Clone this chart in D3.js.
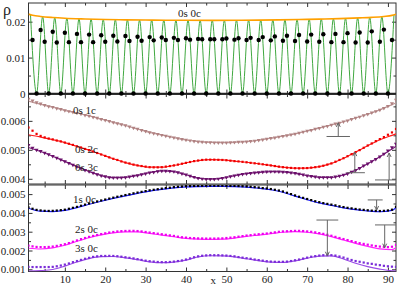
<!DOCTYPE html>
<html>
<head>
<meta charset="utf-8">
<script src="https://cdn.jsdelivr.net/npm/d3@7"></script>
<style>
  body { margin: 0; background: #fff; }
  svg { display: block; }
  text { font-family: "Liberation Serif", "DejaVu Serif", serif; fill: #222; }
</style>
</head>
<body>
<div id="chart"></div>
<script>
// all densities below are in units of 1e-3
const unit = 1e-3;

const sites = d3.range(1, 93);               // lattice sites 1..92 (markers)
const lineSites = d3.range(1, 92, 3).concat([92]);
const dotSites = d3.range(2, 92);            // 2..91
const greenSites = d3.range(1.5, 92, 1.5);   // 1.5..91.5

// top panel: 0s 0c
const dots0s0c = [14.9,0,17.7,14.4,0,17.2,14.2,0,16.9,14.3,0,16.6,14.3,0,16.4,14.3,0,16.2,14.4,0,
  16.1,14.5,0,16.0,14.6,0,15.8,14.7,0,15.7,14.8,0,15.6,14.9,0,15.5,14.9,0,15.4,15.0,
  0,15.2,15.1,0,15.1,15.1,0,15.1,15.3,0,15.0,15.4,0,14.9,15.5,0,14.9,15.7,0,14.8,
  15.9,0,14.7,16.1,0,14.6,16.3,0,14.5,16.4,0,14.4,16.5,0,14.3,16.6,0,14.3,16.8,0,
  14.2,17.0,0,14.2,17.3,0,14.4,17.8,0,14.9];
const green0s0c = [21.9,0,21.4,0,21.1,0,20.95,0,20.8,0,20.7,0,20.6,0,20.55,0,20.5,0,20.45,0,
  20.43,0,20.4,0,20.39,0,20.38,0,20.37,0,20.37,0,20.37,0,20.38,0,20.4,0,20.42,0,
  20.47,0,20.52,0,20.58,0,20.66,0,20.74,0,20.8,0,20.9,0,21.02,0,21.17,0,21.4,0,21.9];
const orangeSites = [1,2,4,7,10,15,20,25,30,35,40,46.5,53,58,63,68,73,78,83,86,89,91,92];
const orange0s0c = [22.1,21.8,21.45,21.15,20.95,20.75,20.6,20.5,20.45,20.4,20.38,20.37,20.38,
  20.42,20.5,20.6,20.72,20.85,21.05,21.2,21.45,21.75,22.1];

// middle panel
const line0s1c = [6.68,6.57,6.47,6.36,6.27,6.17,6.06,5.95,5.84,5.72,5.60,5.51,5.42,5.34,5.28,5.255,
  5.25,5.26,5.28,5.33,5.40,5.47,5.55,5.65,5.75,5.86,5.97,6.10,6.23,6.38,6.56,6.62];
const marks0s1c = [6.76,6.70,6.64,6.59,6.54,6.50,6.47,6.43,6.40,6.36,
  6.33,6.30,6.27,6.24,6.20,6.17,6.13,6.10,6.06,6.02,
  5.99,5.95,5.91,5.88,5.84,5.80,5.76,5.72,5.68,5.64,
  5.60,5.57,5.54,5.51,5.48,5.45,5.42,5.39,5.37,5.34,
  5.32,5.30,5.28,5.27,5.26,5.255,5.25,5.25,5.25,5.25,
  5.255,5.26,5.27,5.275,5.28,5.30,5.31,5.33,5.35,5.38,
  5.40,5.42,5.45,5.47,5.50,5.52,5.55,5.58,5.62,5.65,
  5.68,5.72,5.75,5.79,5.82,5.86,5.90,5.93,5.97,6.01,
  6.06,6.10,6.14,6.19,6.23,6.28,6.33,6.38,6.44,6.51,
  6.60,6.72];
const line0s2c = [5.52,5.44,5.35,5.25,5.12,4.99,4.84,4.69,4.56,4.46,4.40,4.40,4.46,4.55,4.63,4.66,
  4.65,4.61,4.57,4.52,4.46,4.40,4.365,4.37,4.42,4.53,4.71,4.92,5.14,5.35,5.50,5.55];
const marks0s2c = [5.77,5.66,5.55,5.48,5.43,5.39,5.36,5.32,5.29,5.25,
  5.21,5.17,5.12,5.08,5.03,4.99,4.94,4.89,4.84,4.79,
  4.74,4.69,4.65,4.60,4.56,4.53,4.49,4.46,4.44,4.42,
  4.40,4.395,4.395,4.40,4.42,4.44,4.46,4.49,4.52,4.55,
  4.58,4.61,4.63,4.65,4.66,4.66,4.66,4.655,4.65,4.64,
  4.625,4.61,4.60,4.585,4.57,4.55,4.535,4.52,4.50,4.48,
  4.46,4.44,4.42,4.40,4.385,4.375,4.365,4.36,4.365,4.37,
  4.385,4.40,4.42,4.45,4.49,4.53,4.59,4.65,4.71,4.78,
  4.85,4.92,4.99,5.07,5.15,5.22,5.30,5.37,5.44,5.52,
  5.60,5.72];
const line0s3c = [5.08,4.94,4.78,4.60,4.42,4.25,4.11,4.04,4.05,4.12,4.21,4.27,4.25,4.14,4.02,3.99,
  4.02,4.11,4.18,4.22,4.25,4.24,4.19,4.11,4.05,4.05,4.13,4.30,4.52,4.76,5.03,5.12];
const marks0s3c = [5.16,5.07,5.00,4.95,4.89,4.84,4.78,4.72,4.66,4.60,
  4.54,4.48,4.42,4.36,4.30,4.25,4.20,4.15,4.11,4.08,
  4.05,4.04,4.035,4.04,4.05,4.07,4.095,4.12,4.15,4.18,
  4.21,4.23,4.255,4.27,4.27,4.26,4.25,4.22,4.18,4.14,
  4.10,4.06,4.02,4.00,3.99,3.99,3.99,4.00,4.02,4.05,
  4.08,4.11,4.135,4.16,4.18,4.195,4.21,4.22,4.235,4.245,
  4.25,4.25,4.245,4.24,4.225,4.21,4.19,4.165,4.14,4.11,
  4.09,4.07,4.05,4.045,4.045,4.05,4.07,4.10,4.13,4.18,
  4.24,4.30,4.37,4.45,4.52,4.60,4.68,4.76,4.86,4.97,
  5.08,5.20];

// bottom panel
const line1s0c = [4.25,4.09,4.07,4.13,4.28,4.46,4.62,4.77,4.91,5.04,5.16,5.25,5.33,5.38,5.40,5.41,
  5.41,5.40,5.37,5.31,5.23,5.10,4.89,4.70,4.53,4.40,4.27,4.17,4.10,4.06,4.13,4.28];
const marks1s0c = [4.29,4.22,4.16,4.13,4.11,4.105,4.11,4.125,4.145,4.17,
  4.22,4.27,4.32,4.38,4.44,4.50,4.55,4.61,4.66,4.71,
  4.76,4.81,4.86,4.90,4.95,4.99,5.04,5.08,5.12,5.16,
  5.20,5.23,5.26,5.29,5.32,5.34,5.37,5.39,5.405,5.42,
  5.43,5.435,5.44,5.445,5.45,5.45,5.45,5.45,5.45,5.445,
  5.44,5.44,5.43,5.42,5.41,5.39,5.37,5.35,5.32,5.30,
  5.27,5.23,5.19,5.14,5.07,5.00,4.93,4.86,4.80,4.74,
  4.68,4.62,4.57,4.52,4.48,4.44,4.40,4.35,4.31,4.27,
  4.24,4.21,4.18,4.16,4.14,4.12,4.11,4.10,4.11,4.13,
  4.17,4.32];
const line2s0c = [2.12,2.08,2.14,2.28,2.49,2.68,2.83,2.94,2.995,2.99,2.91,2.82,2.73,2.64,2.60,2.59,
  2.60,2.66,2.75,2.82,2.89,2.97,3.00,2.97,2.88,2.74,2.56,2.38,2.22,2.09,2.05,2.14];
const marks2s0c = [2.26,2.22,2.19,2.18,2.18,2.19,2.21,2.245,2.29,2.335,
  2.395,2.465,2.535,2.605,2.665,2.725,2.775,2.825,2.875,2.915,
  2.955,2.985,3.015,3.03,3.04,3.045,3.045,3.035,3.015,2.985,
  2.955,2.925,2.895,2.865,2.835,2.805,2.775,2.735,2.705,2.685,
  2.665,2.655,2.645,2.64,2.635,2.635,2.635,2.64,2.645,2.665,
  2.685,2.705,2.735,2.765,2.795,2.815,2.845,2.865,2.885,2.905,
  2.935,2.965,2.995,3.015,3.025,3.035,3.045,3.045,3.035,3.015,
  2.995,2.965,2.925,2.885,2.835,2.785,2.725,2.665,2.61,2.555,
  2.50,2.445,2.39,2.35,2.31,2.27,2.24,2.21,2.19,2.18,
  2.20,2.30];
const line3s0c = [0.91,0.93,0.99,1.17,1.39,1.57,1.67,1.68,1.61,1.51,1.40,1.35,1.38,1.49,1.66,1.72,
  1.71,1.66,1.56,1.46,1.38,1.37,1.45,1.59,1.70,1.71,1.55,1.32,1.14,1.01,0.92,0.91];
const marks3s0c = [1.13,1.12,1.12,1.12,1.12,1.12,1.13,1.16,1.20,1.25,
  1.31,1.38,1.44,1.50,1.56,1.61,1.66,1.69,1.71,1.71,
  1.715,1.71,1.695,1.67,1.64,1.61,1.58,1.54,1.50,1.46,
  1.43,1.41,1.39,1.38,1.38,1.39,1.41,1.44,1.47,1.52,
  1.58,1.64,1.69,1.72,1.74,1.75,1.75,1.75,1.74,1.73,
  1.71,1.69,1.65,1.62,1.59,1.56,1.52,1.49,1.46,1.43,
  1.41,1.40,1.395,1.40,1.41,1.44,1.48,1.52,1.57,1.62,
  1.67,1.70,1.73,1.75,1.75,1.75,1.73,1.68,1.625,1.56,
  1.495,1.44,1.40,1.36,1.315,1.29,1.25,1.22,1.185,1.16,
  1.14,1.13];

// annotation arrows: site, bar level, arrow tip, bar extent (sites)
const arrowsMid = [
  { x: 77.7, base: 5.46, tip: 5.93, bar: [74.8, 80.6] },
  { x: 81.8, base: 4.21, tip: 4.92, bar: [79.8, 84.3] },
  { x: 90.3, base: 3.96, tip: 4.89, bar: [86.8, 94] }
];
const arrowsBot = [
  { x: 87.2, base: 4.69, tip: 4.15, bar: [85.0, 88.7] },
  { x: 75.0, base: 3.62, tip: 1.72, bar: [72.3, 77.7] },
  { x: 89.2, base: 3.36, tip: 2.15, bar: [86.8, 94] }
];

const labelsTop = [{ text: "0s 0c", x: 38.0, v: 21.3 }];
const labelsMid = [
  { text: "0s 1c", x: 12.0, v: 6.24 },
  { text: "0s 2c", x: 12.5, v: 4.89 },
  { text: "0s 3c", x: 12.5, v: 4.27 }
];
const labelsBot = [
  { text: "1s 0c", x: 12.0, v: 4.53 },
  { text: "2s 0c", x: 12.5, v: 2.93 },
  { text: "3s 0c", x: 12.5, v: 1.92 }
];

const xTicks = [10, 20, 30, 40, 50, 60, 70, 80, 90];
const xMinor = [5, 15, 25, 35, 45, 55, 65, 75, 85];

// ---------------------------------------------------------------
const W = 399, H = 286;
const left = 28.5, right = 396;

const x = d3.scaleLinear().domain([1, 92]).range([left, right]);

const panels = [
  { id: "top", y0: 3, y1: 93.5, domain: [0, 0.0252],
    ticks: [0, 0.01, 0.02], minor: [0.005, 0.015] },
  { id: "mid", y0: 94.5, y1: 184, domain: [0.00382, 0.00691],
    ticks: [0.004, 0.005, 0.006], minor: [0.0045, 0.0055, 0.0065] },
  { id: "bot", y0: 185, y1: 271.5, domain: [0.000883, 0.005484],
    ticks: [0.001, 0.002, 0.003, 0.004, 0.005], minor: [0.0015, 0.0025, 0.0035, 0.0045] }
];
panels.forEach(p => p.y = d3.scaleLinear().domain(p.domain).range([p.y1, p.y0]));

const svg = d3.select("#chart").append("svg")
  .attr("width", W).attr("height", H);

const defs = svg.append("defs");
panels.forEach(p => {
  defs.append("clipPath").attr("id", "clip-" + p.id)
    .append("rect")
    .attr("x", left).attr("y", p.y0)
    .attr("width", right - left).attr("height", p.y1 - p.y0);
});

const fmt = d3.format(".3~f");

// frames and ticks
panels.forEach((p, i) => {
  const g = svg.append("g").attr("class", "axes-" + p.id);

  const yl = d3.axisLeft(p.y).tickValues(p.ticks).tickSize(-4).tickPadding(3).tickFormat(fmt);
  g.append("g").attr("transform", `translate(${left},0)`).call(yl);
  g.append("g").attr("transform", `translate(${left},0)`)
    .call(d3.axisLeft(p.y).tickValues(p.minor).tickSize(-2.5).tickFormat(""));
  g.append("g").attr("transform", `translate(${right},0)`)
    .call(d3.axisRight(p.y).tickValues(p.ticks).tickSize(-4).tickFormat(""));
  g.append("g").attr("transform", `translate(${right},0)`)
    .call(d3.axisRight(p.y).tickValues(p.minor).tickSize(-2.5).tickFormat(""));

  const xb = d3.axisBottom(x).tickValues(xTicks).tickSize(-4).tickPadding(4)
    .tickFormat(i === 2 ? d3.format("d") : "");
  g.append("g").attr("class", "xaxis").attr("transform", `translate(0,${p.y1})`).call(xb);
  g.append("g").attr("transform", `translate(0,${p.y1})`)
    .call(d3.axisBottom(x).tickValues(xMinor).tickSize(-2.5).tickFormat(""));
  g.append("g").attr("transform", `translate(0,${p.y0})`)
    .call(d3.axisTop(x).tickValues(xTicks).tickSize(-4).tickFormat(""));
  g.append("g").attr("transform", `translate(0,${p.y0})`)
    .call(d3.axisTop(x).tickValues(xMinor).tickSize(-2.5).tickFormat(""));

  g.selectAll(".domain").remove();
  g.selectAll(".tick line").attr("stroke", "#333");
  g.selectAll(".tick text").style("font-size", "11px")
    .style("font-family", '"Liberation Serif", serif').attr("fill", "#222");

  g.append("rect")
    .attr("x", left).attr("y", p.y0)
    .attr("width", right - left).attr("height", p.y1 - p.y0)
    .attr("fill", "none").attr("stroke", "#333").attr("stroke-width", 1);
});

const [pTop, pMid, pBot] = panels;

// ---- top panel ----
const gTop = svg.append("g");
const gTopClip = gTop.append("g").attr("clip-path", "url(#clip-top)");

gTopClip.append("path")
  .datum(greenSites.map((s, i) => [s, green0s0c[i] * unit]))
  .attr("fill", "none").attr("stroke", "#40a840").attr("stroke-width", 1)
  .attr("d", d3.line().x(d => x(d[0])).y(d => pTop.y(d[1])).curve(d3.curveMonotoneX));

gTopClip.append("path")
  .datum(orangeSites.map((s, i) => [s, orange0s0c[i] * unit]))
  .attr("fill", "none").attr("stroke", "#ffa000").attr("stroke-width", 1.6)
  .attr("d", d3.line().x(d => x(d[0])).y(d => pTop.y(d[1])).curve(d3.curveMonotoneX));

gTop.append("line")
  .attr("x1", left).attr("x2", right)
  .attr("y1", pTop.y(0)).attr("y2", pTop.y(0))
  .attr("stroke", "#222").attr("stroke-width", 1.4);

gTop.selectAll("circle")
  .data(dotSites.map((s, i) => [s, dots0s0c[i] * unit]))
  .join("circle")
  .attr("cx", d => x(d[0])).attr("cy", d => pTop.y(d[1]))
  .attr("r", 2.2).attr("fill", "#000");

// ---- series drawing helpers ----
function drawSeries(p, lineVals, markVals, lineColor, markColor, shape) {
  const g = svg.append("g").attr("clip-path", `url(#clip-${p.id})`);
  g.append("path")
    .datum(lineSites.map((s, i) => [s, lineVals[i] * unit]))
    .attr("fill", "none").attr("stroke", lineColor).attr("stroke-width", 1.2)
    .attr("d", d3.line().x(d => x(d[0])).y(d => p.y(d[1])).curve(d3.curveMonotoneX));
  const pts = sites.map((s, i) => [s, markVals[i] * unit]);
  if (shape === "tri") {
    const sym = d3.symbol().type(d3.symbolTriangle).size(7);
    g.selectAll("path.m").data(pts).join("path").attr("class", "m")
      .attr("d", sym)
      .attr("transform", d => `translate(${x(d[0])},${p.y(d[1])}) rotate(180)`)
      .attr("fill", markColor);
  } else {
    g.selectAll("rect.m").data(pts).join("rect").attr("class", "m")
      .attr("x", d => x(d[0]) - 1.1).attr("y", d => p.y(d[1]) - 1.1)
      .attr("width", 2.2).attr("height", 2.2)
      .attr("fill", markColor);
  }
}

function drawArrows(p, list) {
  const g = svg.append("g").attr("clip-path", `url(#clip-${p.id})`)
    .attr("stroke", "#666").attr("stroke-width", 1).attr("fill", "none");
  list.forEach(a => {
    const xb = x(a.x), yb = p.y(a.base * unit), yt = p.y(a.tip * unit);
    const dir = yt < yb ? 1 : -1;
    g.append("line").attr("x1", x(a.bar[0])).attr("x2", x(a.bar[1]))
      .attr("y1", yb).attr("y2", yb);
    g.append("line").attr("x1", xb).attr("x2", xb).attr("y1", yb).attr("y2", yt);
    g.append("path").attr("d", `M${xb - 2},${yt + dir * 4}L${xb},${yt}L${xb + 2},${yt + dir * 4}`);
  });
}

function drawLabels(p, list) {
  svg.append("g").selectAll("text").data(list).join("text")
    .attr("x", d => x(d.x)).attr("y", d => p.y(d.v * unit))
    .style("font-size", "11px")
    .text(d => d.text);
}

drawSeries(pMid, line0s1c, marks0s1c, "#c09898", "#b08282", "tri");
drawSeries(pMid, line0s2c, marks0s2c, "#ff1a1a", "#ee0000", "sq");
drawSeries(pMid, line0s3c, marks0s3c, "#7a1a7a", "#6a106a", "tri");
drawArrows(pMid, arrowsMid);

drawSeries(pBot, line1s0c, marks1s0c, "#1a1aff", "#000", "sq");
drawSeries(pBot, line2s0c, marks2s0c, "#ff22ff", "#ee00ee", "sq");
drawSeries(pBot, line3s0c, marks3s0c, "#9a4ae6", "#7a2cd8", "sq");
drawArrows(pBot, arrowsBot);

drawLabels(pTop, labelsTop);
drawLabels(pMid, labelsMid);
drawLabels(pBot, labelsBot);

// axis titles
svg.append("text")
  .attr("x", (left + right) / 2 + 1).attr("y", pBot.y1 + 12.5)
  .attr("text-anchor", "middle")
  .style("font-size", "11px")
  .text("x");

svg.append("text")
  .attr("x", 3).attr("y", 14.5)
  .style("font-size", "16px")
  .text("ρ");
</script>
</body>
</html>
